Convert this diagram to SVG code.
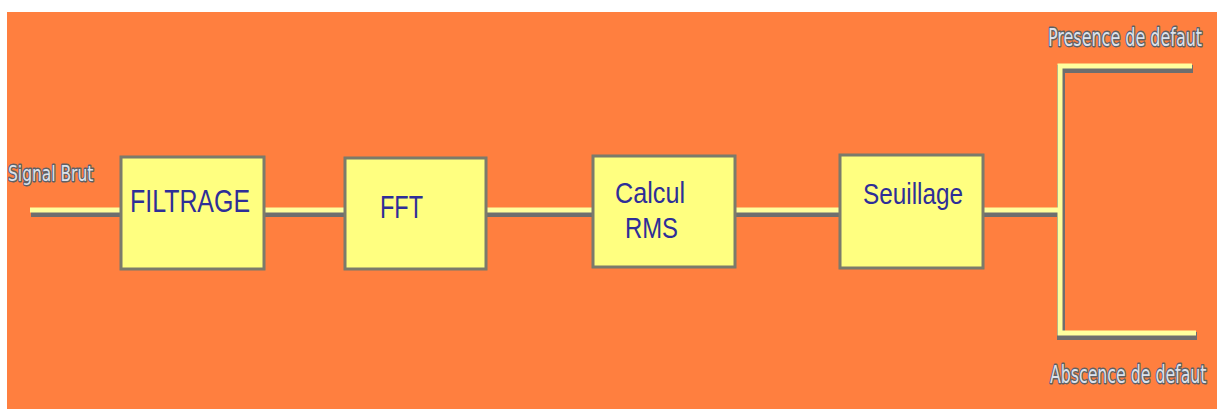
<svg xmlns="http://www.w3.org/2000/svg" width="1217" height="412" viewBox="0 0 1217 412">
<style>
.box{fill:#FFFF80;stroke:#7B7B6B;stroke-width:3}
.bt{font-family:"Liberation Sans",Arial,sans-serif;fill:#2E2E98}
.lbl{font-family:"DejaVu Sans Condensed","DejaVu Sans",sans-serif;fill:#DCE2EC;stroke:#5E6066;stroke-width:2.8;paint-order:stroke;stroke-linejoin:round}
.sh{fill:none;stroke:#6E6E6E;stroke-width:8;stroke-linejoin:miter}
.ln{fill:none;stroke:#FFFF9E;stroke-width:5;stroke-linejoin:miter}
</style>
<rect x="0" y="0" width="1217" height="412" fill="#FFFFFF"/>
<rect x="7" y="12" width="1210" height="397" fill="#FF7F3F"/>
<g id="connectors">
<g transform="translate(1,3)">
<path class="sh" d="M30 210H121M264 210H345M486 210H593M735 210H840M983 210H1060"/>
<path class="sh" d="M1192 66H1060V333H1196"/>
</g>
<path class="ln" d="M30 210H121M264 210H345M486 210H593M735 210H840M983 210H1060"/>
<path class="ln" d="M1192 66H1060V333H1196"/>
</g>
<g id="filtrage">
<rect class="box" x="121" y="157" width="143" height="112"/>
<text class="bt" x="130" y="212" font-size="31" textLength="120" lengthAdjust="spacingAndGlyphs">FILTRAGE</text>
</g>
<g id="fft">
<rect class="box" x="345" y="158" width="141" height="111"/>
<text class="bt" x="380" y="218" font-size="32" textLength="43" lengthAdjust="spacingAndGlyphs">FFT</text>
</g>
<g id="calcul-rms">
<rect class="box" x="593" y="156" width="142" height="111"/>
<text class="bt" x="615" y="203" font-size="30" textLength="70" lengthAdjust="spacingAndGlyphs">Calcul</text>
<text class="bt" x="625" y="238" font-size="30" textLength="53" lengthAdjust="spacingAndGlyphs">RMS</text>
</g>
<g id="seuillage">
<rect class="box" x="840" y="155" width="143" height="113"/>
<text class="bt" x="863" y="204" font-size="29" textLength="100" lengthAdjust="spacingAndGlyphs">Seuillage</text>
</g>
<g id="labels">
<text class="lbl" transform="translate(8,181) scale(0.82,1)" font-size="21">Signal Brut</text>
<text class="lbl" transform="translate(1048,46) scale(0.74,1)" font-size="24">Presence de defaut</text>
<text class="lbl" transform="translate(1050,383) scale(0.73,1)" font-size="24">Abscence de defaut</text>
</g>
</svg>
